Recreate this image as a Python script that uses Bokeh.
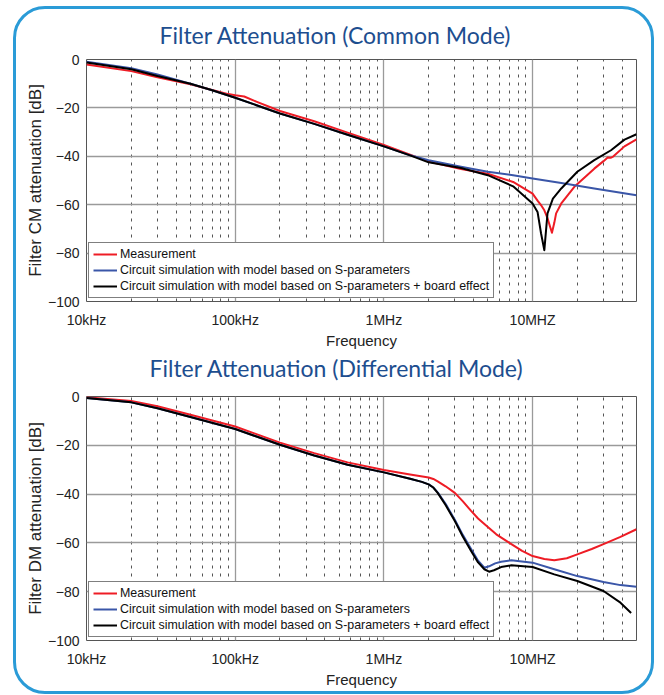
from bokeh.plotting import figure
from bokeh.layouts import column
from bokeh.models import FixedTicker, Legend, LegendItem, Title
from bokeh.embed import file_html
from bokeh.resources import INLINE

# ---------------- data ----------------
freq_major = [1e4, 1e5, 1e6, 1e7]
freq_labels = ["10kHz", "100kHz", "1MHz", "10MHZ"]
freq_minor = [m * d for d in [1e4, 1e5, 1e6, 1e7] for m in range(2, 10) if m * d <= 5e7]
db_ticks = [0, -20, -40, -60, -80, -100]
series_names = [
    "Measurement",
    "Circuit simulation with model based on S-parameters",
    "Circuit simulation with model based on S-parameters + board effect",
]
titles = ["Filter Attenuation (Common Mode)", "Filter Attenuation (Differential Mode)"]
ylabels = ["Filter CM attenuation [dB]", "Filter DM attenuation [dB]"]

# Common mode
cm_meas_f = [1e4, 2e4, 3e4, 5e4, 7e4, 9e4, 1.0e5, 1.15e5, 1.4e5, 2e5, 3.4e5, 5.7e5, 1e6, 1.5e6,
             2e6, 3.3e6, 5e6, 7.4e6, 1e7, 1.08e7, 1.15e7, 1.2e7, 1.26e7, 1.31e7, 1.35e7, 1.4e7,
             1.44e7, 1.56e7, 1.91e7, 2.6e7, 3.0e7, 3.2e7, 3.37e7, 3.5e7, 4.15e7, 5e7]
cm_meas_db = [-2.1, -4.8, -7.3, -10.2, -12.6, -14.3, -14.8, -15.3, -17.5, -21.3, -25.5, -30.2, -35.3, -39.3,
              -42.2, -45.3, -47.2, -50.6, -55.4, -58.3, -60.5, -62.3, -65.5, -69.0, -71.6, -67.5,
              -63.6, -59.5, -52.6, -45.1, -42.0, -40.5, -40.6, -40.0, -35.9, -33.0]

cm_sim_f = [1e4, 2e4, 3e4, 5e4, 7e4, 1e5, 2e5, 3.4e5, 5.7e5, 1e6, 1.5e6, 2e6, 3.3e6, 5e6, 7.4e6,
            1e7, 1.56e7, 2.6e7, 5e7]
cm_sim_db = [-0.9, -3.6, -6.2, -10.0, -12.7, -15.8, -22.3, -26.6, -31.1, -35.9, -39.6, -41.6, -44.3, -46.4, -47.8,
             -49.2, -51.0, -53.3, -56.1]

cm_board_f = [1e4, 2e4, 3e4, 5e4, 7e4, 1e5, 2e5, 3.4e5, 5.7e5, 1e6, 1.5e6, 2e6, 3.3e6, 5e6, 7.4e6,
              1e7, 1.08e7, 1.14e7, 1.2e7, 1.26e7, 1.37e7, 1.56e7, 2.0e7, 2.6e7, 3.37e7, 4.15e7, 5e7]
cm_board_db = [-1.2, -4.0, -6.8, -10.0, -12.7, -15.8, -22.3, -26.6, -31.1, -35.9, -39.6, -42.5, -44.8, -47.8, -52.4,
               -59.5, -63.0, -71.8, -78.8, -63.6, -57.5, -53.3, -46.4, -41.6, -37.5, -33.1, -30.9]

# Differential mode
dm_meas_f = [1e4, 2e4, 3e4, 5e4, 1e5, 2e5, 3.4e5, 5.7e5, 1e6, 1.5e6, 2e6, 2.15e6, 2.3e6, 2.6e6, 3e6,
             3.4e6, 3.86e6, 4.3e6, 4.74e6, 5.7e6, 7.2e6, 8.5e6, 1e7, 1.2e7, 1.4e7, 1.7e7, 2e7,
             2.5e7, 3e7, 3.9e7, 5e7]
dm_meas_db = [-0.3, -1.8, -4.0, -7.5, -12.3, -18.9, -23.2, -27.0, -30.1, -32.0, -33.2, -33.8, -34.8, -36.8, -39.5,
              -43.0, -46.9, -50.0, -52.3, -56.5, -60.5, -63.3, -65.4, -66.6, -67.1, -66.3, -64.7,
              -62.5, -60.5, -57.5, -54.4]

dm_sim_f = [1e4, 2e4, 3e4, 5e4, 1e5, 2e5, 3.4e5, 5.7e5, 1e6, 1.5e6, 1.8e6, 2e6, 2.15e6, 2.3e6, 2.6e6,
            3e6, 3.4e6, 3.86e6, 4.3e6, 4.74e6, 5.1e6, 5.6e6, 6.14e6, 7.2e6, 1e7, 1.4e7, 2e7, 3e7,
            3.9e7, 5e7]
dm_sim_db = [-0.6, -2.4, -4.8, -8.4, -13.3, -19.8, -24.2, -28.0, -31.1, -33.7, -35.0, -36.0, -37.3, -39.3, -44.0,
             -50.5, -56.8, -62.5, -67.3, -70.2, -69.6, -68.4, -67.7, -67.1, -68.1, -70.8, -73.6, -76.0,
             -77.3, -78.0]

dm_board_f = [1e4, 2e4, 3e4, 5e4, 1e5, 2e5, 3.4e5, 5.7e5, 1e6, 1.5e6, 1.8e6, 2e6, 2.15e6, 2.3e6, 2.6e6,
              3e6, 3.4e6, 3.86e6, 4.3e6, 4.74e6, 5.1e6, 5.5e6, 6.14e6, 7.2e6, 1e7, 1.4e7, 2e7, 3e7,
              3.9e7, 4.6e7]
dm_board_db = [-0.6, -2.4, -4.8, -8.4, -13.3, -19.8, -24.2, -28.0, -31.1, -33.7, -35.0, -36.0, -37.3, -39.5, -44.5,
               -51.0, -57.5, -63.3, -68.0, -70.8, -71.8, -71.2, -69.9, -69.2, -69.9, -72.9, -75.6, -79.7,
               -84.5, -88.7]

COLORS = ["#ee1c25", "#3a56a8", "#000000"]
TITLE_COLOR = "#1d4e8f"
FONT = "Liberation Sans"

FRAME_W = 550


def chart_title(text, offset, standoff):
    return Title(text=text, text_font="Lato", text_font_size="23px", text_font_style="normal",
                 text_color=TITLE_COLOR, align="left", vertical_align="middle",
                 offset=offset, standoff=standoff)


def make_fig(ylabel, series, frame_h, top, bottom):
    p = figure(width=70 + FRAME_W + 15, height=top + frame_h + bottom, x_axis_type="log",
               x_range=(1e4, 5e7), y_range=(-100, 0), title=None,
               output_backend="svg", toolbar_location=None,
               min_border_left=70, min_border_right=15, min_border_top=top, min_border_bottom=bottom)
    p.border_fill_color = None
    p.outline_line_color = "#555555"
    p.outline_line_width = 1

    p.xaxis.ticker = FixedTicker(ticks=freq_major, minor_ticks=freq_minor)
    p.xaxis.major_label_overrides = {v: s for v, s in zip(freq_major, freq_labels)}
    p.yaxis.ticker = FixedTicker(ticks=db_ticks)
    for ax in (p.xaxis[0], p.yaxis[0]):
        ax.axis_line_color = None
        ax.major_tick_line_color = None
        ax.minor_tick_line_color = None
        ax.major_tick_out = 0
        ax.minor_tick_out = 0
        ax.major_label_text_font = FONT
        ax.major_label_text_font_size = "14px"
        ax.major_label_text_color = "#222222"
        ax.axis_label_text_font = FONT
        ax.axis_label_text_font_style = "normal"
        ax.axis_label_text_color = "#222222"
    p.xaxis.axis_label_text_font_size = "15px"
    p.yaxis.axis_label_text_font_size = "17px"
    p.xaxis.axis_label = "Frequency"
    p.yaxis.axis_label = ylabel
    p.xaxis.major_label_standoff = 10
    p.yaxis.major_label_standoff = 7
    p.xaxis.axis_label_standoff = 1
    p.yaxis.axis_label_standoff = 0

    p.xgrid.grid_line_color = "#9a9a9a"
    p.xgrid.grid_line_width = 1.3
    p.xgrid.minor_grid_line_color = "#555555"
    p.xgrid.minor_grid_line_dash = "3 5"
    p.xgrid.minor_grid_line_width = 1
    p.ygrid.grid_line_color = "#9a9a9a"
    p.ygrid.grid_line_width = 1.3

    renderers = []
    for (fx, fy), c in zip(series, COLORS):
        r = p.line(fx, fy, line_color=c, line_width=2, line_join="round")
        renderers.append(r)
    legend = Legend(items=[LegendItem(label=n, renderers=[r]) for n, r in zip(series_names, renderers)],
                    location=(2, 3))
    legend.border_line_color = "black"
    legend.border_line_width = 1
    legend.background_fill_alpha = 1
    legend.label_text_font = FONT
    legend.label_text_font_size = "12.4px"
    legend.label_text_color = "#111111"
    legend.glyph_width = 24
    legend.glyph_height = 14
    legend.label_height = 14
    legend.spacing = 2
    legend.padding = 4
    legend.label_standoff = 3
    legend.margin = 0
    p.add_layout(legend)
    return p


p1 = make_fig(ylabels[0], [(cm_meas_f, cm_meas_db), (cm_sim_f, cm_sim_db), (cm_board_f, cm_board_db)],
              frame_h=242, top=50, bottom=86)
p2 = make_fig(ylabels[1], [(dm_meas_f, dm_meas_db), (dm_sim_f, dm_sim_db), (dm_board_f, dm_board_db)],
              frame_h=244, top=9, bottom=51)

# title of the upper chart above it; title of the lower chart sits in the gap between the charts
p1.add_layout(chart_title(titles[0], 73, 19), "above")
p1.add_layout(chart_title(titles[1], 63, 3), "below")

layout = column(p1, p2, styles={"border": "3px solid #2a9bd7", "border-radius": "32px",
                                "margin": "6px 0px 0px 13px", "background": "white"})

open("out.html", "w").write(file_html(layout, INLINE))
